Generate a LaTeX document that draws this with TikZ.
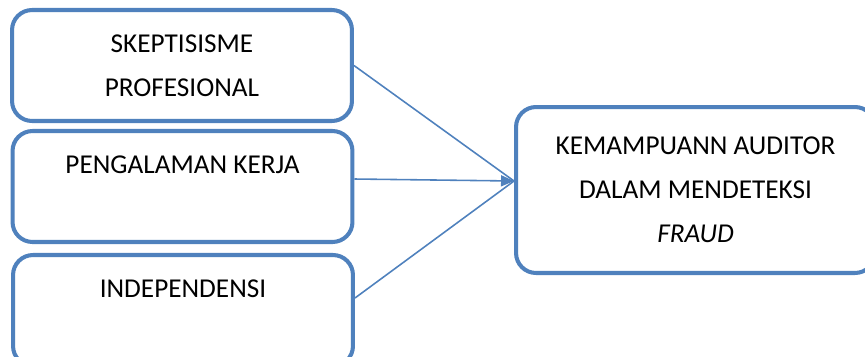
\documentclass[tikz,border=0pt]{standalone}
\usepackage{fontspec}
\setmainfont{Carlito}
\usetikzlibrary{arrows.meta, positioning}
\definecolor{fraudBlue}{HTML}{4F81BD}
\definecolor{fraudInk}{HTML}{000000}

\begin{document}
\begin{tikzpicture}[
        x=0.02cm,
        y=-0.02cm,
        >={Triangle[length=0.26cm, width=0.22cm]},
        font=\fontsize{15.5}{25}\selectfont,
        varbox/.style={rectangle, draw=fraudBlue, line width=2.3pt, fill=white,
                       rounded corners=0.4cm, align=center, text=fraudInk,
                       inner sep=0pt, minimum width=6.8cm, minimum height=2.22cm},
        goalbox/.style={varbox, minimum width=7.18cm, minimum height=3.32cm},
        arrow/.style={->, draw=fraudBlue, line width=0.9pt},
        link/.style={draw=fraudBlue, line width=0.9pt}
    ]

    % Frame of the picture
    \clip (0,0) rectangle (865,356);

    % Independent variables
    \node[varbox] (skeptis)  at (182, 65.5)  {SKEPTISISME\\ PROFESIONAL};
    \node[varbox] (pengalam) at (182.5,186.5) {PENGALAMAN KERJA\\ \mbox{}};
    \node[varbox] (indep)    at (183, 310.5) {INDEPENDENSI\\ \mbox{}};

    % Dependent variable
    \node[goalbox] (mampu) at (695.5, 190) {KEMAMPUANN AUDITOR\\ DALAM MENDETEKSI\\ \textit{FRAUD}};
    \coordinate (tip) at ([yshift=0.18cm]mampu.west);

    % Influence arrows
    \draw[link] (skeptis.east) -- (tip);
    \draw[link] ([yshift=0.25cm]indep.east) -- (tip);
    \draw[arrow] ([yshift=0.15cm]pengalam.east) -- (tip);

    \end{tikzpicture}
\end{document}
